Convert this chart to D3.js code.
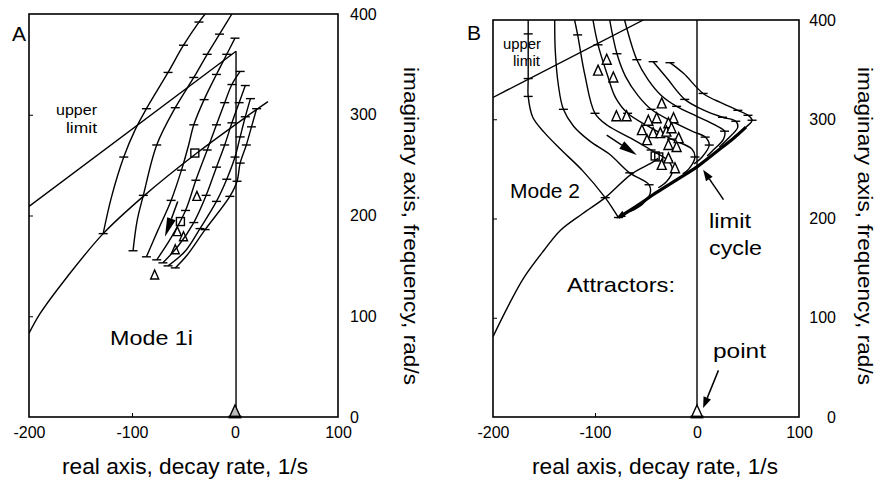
<!DOCTYPE html>
<html><head><meta charset="utf-8">
<script src="https://cdn.jsdelivr.net/npm/d3@7"></script>
<style>body{margin:0;background:#fff}text{font-family:"Liberation Sans",Arial,Helvetica,sans-serif;fill:#000}</style>
</head><body><svg id="c" width="877" height="480"></svg>
<script>
// ---------------- data ----------------
const xTicks = [-200, -100, 0, 100];
const yTicks = [0, 100, 200, 300, 400];
const xTitle = "real axis, decay rate, 1/s";
const yTitle = "imaginary axis, frequency, rad/s";

// Panel A  (x: decay rate 1/s, y: frequency rad/s, third value = crossbar tick)
const aUpperLimit = [[-200, 209], [1, 363]];
const aEnvelope = [[-200, 83], [-189, 103], [-163, 139], [-128, 182], [-89, 219], [-37, 262], [11, 298], [32, 313]];
const aAxisLine = [[1, 0], [1, 363]];
const aCurve1 = [[-128,182,1],[-120,218,0],[-108,258,1],[-97,285,0],[-86,306,1],[-65,342,1],[-50,369,1],[-35,392,1],[-29,400,0]];
const aCurve2 = [[-99,165,1],[-95,195,0],[-89,220,1],[-76,270,1],[-58,307,1],[-40,337,1],[-27,360,1],[-15,380,1],[-3,400,0]];
const aCurve3 = [[-86,159,1],[-75,185,0],[-62,215,1],[-52,245,1],[-45,270,0],[-40,290,1],[-30,315,1],[-18,340,1],[-8,360,1],[0,376,1]];
const aCurve4 = [[-76,156,1],[-62,178,0],[-48,205,1],[-38,235,1],[-27,265,1],[-18,290,1],[-10,312,1],[-3,330,1],[5,343,1]];
const aCurve5 = [[-70,153,1],[-55,170,0],[-40,193,1],[-28,220,1],[-18,248,1],[-10,270,1],[-3,292,1],[4,312,1],[10,329,1]];
const aCurve6 = [[-65,150,1],[-48,165,0],[-34,187,1],[-18,214,1],[-8,236,1],[0,258,1],[5,278,1],[10,298,1],[15,316,1]];
const aCurve7 = [[-58,148,1],[-47,160,0],[-29,186,1],[-5,219,1],[2,234,1],[5,252,1],[11,270,1],[16,288,1],[21,306,1]];
const aSquares = [[-39, 262], [-53, 194]];
const aTriangles = [[-37, 219], [-56, 184], [-50, 179], [-58, 166], [-78, 141]];
const aArrow = [[-55.6, 214], [-68, 179]];
const aOrigin = [0, 0];

// Panel B
const bUpperLimit = [[-200, 322], [-52.6, 400]];
const bEnvelope = [[-200,81],[-185,112],[-170,140],[-150,168],[-134,188],[-112,205],[-90,221],[-64,245],[-43,257],[-38,261]];
const bAxisLine = [[0, 0], [0, 400]];
const bCurve1 = [[-165.5,400,0],[-165.5,386,1],[-165.5,341,1],[-165.5,323,1],[-161,302,0],[-150,287,0],[-134,270,0],[-112,248,0],[-90,221,1],[-82,209,0],[-77,201,1]];
const bCurve2 = [[-139.5,400,0],[-139,370,0],[-136,335,0],[-131,310,1],[-121,293,0],[-105,278,0],[-86,265,0],[-66,246,1],[-47,234,1],[-46,225,0],[-54,214,0],[-66,207,0]];
const bCurve3 = [[-120,400,0],[-117,385,1],[-110,345,0],[-100,306,1],[-88,294,0],[-65,281,0],[-45,269,1],[-28,258,1],[-24,248,0],[-30,237,0],[-38,231,0]];
const bCurve4 = [[-102,400,0],[-97,375,1],[-88,345,0],[-80,322,0],[-68,306,1],[-48,293,0],[-25,280,1],[-5,270,0],[-2,262,1],[-8,250,0],[-14,245,0]];
const bCurve5 = [[-85.6,400,0],[-78.5,366,1],[-70,343,0],[-58,324,0],[-45,310,1],[-25,298,0],[-5,288,0],[8,282,1],[12,274,1],[5,262,0],[-3,255,0]];
const bCurve6 = [[-71,400,0],[-59,360,1],[-48,340,0],[-35,324,0],[-20,313,1],[0,303,0],[18,294,0],[27,288,1],[26,280,0],[15,268,0],[10,263,0]];
const bCurve7 = [[-43,358,1],[-30,342,0],[-12,320,1],[5,310,0],[25,302,1],[38,298,1],[40,292,0],[30,280,0],[22,272,0]];
const bCurve8 = [[-26.5,357,1],[-13,346,0],[6,326,1],[25,316,0],[40,309,1],[50,304,1],[54,299,1],[48,292,0],[36,282,0]];
const bLimitCycle = [[-77,201],[-60,212],[-40,226],[-20,239],[0,252],[20,268],[35,280],[48,292]];
const bTriangles = [[-88.5,360],[-97,349],[-82,342],[-79,303],[-69,303],[-34.6,316],[-47.7,298.5],[-39.5,301],[-23,301],[-28,296],[-54,289],[-43,286],[-36,286],[-30,287.5],[-25,291],[-18,281],[-49,279],[-28,274],[-20,272],[-28,260.6],[-34.6,254],[-21.6,250.6]];
const bSquares = [[-41, 263], [-37.5, 262]];
const bArrow = [[-88.5, 284], [-59, 264]];
const bLimitArrow = [[26, 219], [6, 249]];
const bPointArrow = [[21, 47], [6, 9]];
const bOrigin = [0, 0];

// ---------------- drawing ----------------
const svg = d3.select("#c");
svg.append("rect").attr("width", 877).attr("height", 480).attr("fill", "#fff");
const FONT = '"Liberation Sans",Arial,Helvetica,sans-serif';
const SW = 1.4;

function triPath(px, py, w, h, baseAt) {
  const top = baseAt ? py - h : py - h * 0.55;
  const bot = baseAt ? py : py + h * 0.45;
  return `M${px},${top}L${px + w / 2},${bot}L${px - w / 2},${bot}Z`;
}
function arrow(g, p1, p2, hl, hw, sw) {
  const dx = p2[0] - p1[0], dy = p2[1] - p1[1], L = Math.hypot(dx, dy);
  const ux = dx / L, uy = dy / L, nx = -uy, ny = ux;
  const bx = p2[0] - ux * hl, by = p2[1] - uy * hl;
  g.append("line").attr("x1", p1[0]).attr("y1", p1[1]).attr("x2", bx).attr("y2", by)
    .attr("stroke", "#000").attr("stroke-width", sw);
  g.append("path").attr("d", `M${p2[0]},${p2[1]}L${bx + nx * hw},${by + ny * hw}L${bx - nx * hw},${by - ny * hw}Z`)
    .attr("fill", "#000");
}

function panel(cfg) {
  const x = d3.scaleLinear().domain([-200, 100]).range([cfg.L, cfg.R]);
  const y = d3.scaleLinear().domain([0, 400]).range([cfg.B, cfg.T]);
  const g = svg.append("g");
  const clipId = "clip" + cfg.name;
  svg.append("clipPath").attr("id", clipId).append("rect")
    .attr("x", cfg.L).attr("y", cfg.T).attr("width", cfg.R - cfg.L).attr("height", cfg.B - cfg.T);
  const plot = g.append("g").attr("clip-path", `url(#${clipId})`);

  const straight = d3.line().x(d => x(d[0])).y(d => y(d[1]));
  const smooth = d3.line().x(d => x(d[0])).y(d => y(d[1])).curve(d3.curveCatmullRom.alpha(0.5));

  plot.append("path").attr("d", straight(cfg.axisLine)).attr("fill", "none").attr("stroke", "#000").attr("stroke-width", SW);
  plot.append("path").attr("d", straight(cfg.upper)).attr("fill", "none").attr("stroke", "#000").attr("stroke-width", SW);
  plot.append("path").attr("d", smooth(cfg.envelope)).attr("fill", "none").attr("stroke", "#000").attr("stroke-width", SW);

  cfg.curves.forEach(c => {
    plot.append("path").attr("d", smooth(c)).attr("fill", "none").attr("stroke", "#000").attr("stroke-width", SW);
    c.filter(p => p[2]).forEach(p => {
      plot.append("line").attr("x1", x(p[0]) - 4.5).attr("x2", x(p[0]) + 4.5)
        .attr("y1", y(p[1])).attr("y2", y(p[1])).attr("stroke", "#000").attr("stroke-width", SW);
    });
  });
  if (cfg.limit) {
    plot.append("path").attr("d", smooth(cfg.limit)).attr("fill", "none").attr("stroke", "#000").attr("stroke-width", 3.2);
    const a = cfg.limit[1], b = cfg.limit[0];
    arrow(plot, [x(a[0]), y(a[1])], [x(b[0]) - 2, y(b[1]) + 1], 9, 3.5, 1.5);
  }

  cfg.squares.forEach(p => {
    plot.append("rect").attr("x", x(p[0]) - 4).attr("y", y(p[1]) - 4).attr("width", 8).attr("height", 8)
      .attr("fill", "none").attr("stroke", "#000").attr("stroke-width", 1.4);
  });
  cfg.triangles.forEach(p => {
    plot.append("path").attr("d", triPath(x(p[0]), y(p[1]), cfg.triW, cfg.triH, false))
      .attr("fill", cfg.triFill).attr("stroke", "#000").attr("stroke-width", 1.4);
  });
  plot.append("path").attr("d", triPath(x(cfg.origin[0]), y(cfg.origin[1]), 11, 12, true))
    .attr("fill", cfg.originFill).attr("stroke", "#000").attr("stroke-width", 1.4);
  g.append("line").attr("x1", x(cfg.origin[0]) - 6.5).attr("x2", x(cfg.origin[0]) + 6.5)
    .attr("y1", y(0)).attr("y2", y(0)).attr("stroke", "#000").attr("stroke-width", 2.8);

  cfg.arrows.forEach(a => arrow(g, [x(a.p[0][0]), y(a.p[0][1])], [x(a.p[1][0]), y(a.p[1][1])], a.hl, a.hw, a.sw));

  g.append("rect").attr("x", cfg.L).attr("y", cfg.T).attr("width", cfg.R - cfg.L).attr("height", cfg.B - cfg.T)
    .attr("fill", "none").attr("stroke", "#000").attr("stroke-width", 1.6);

  g.append("g").attr("transform", `translate(${cfg.L},0)`)
    .call(d3.axisLeft(y).tickValues(yTicks.filter(v => v > 0 && v < 400)).tickSizeInner(-4).tickSizeOuter(0).tickFormat(""))
    .call(s => s.select(".domain").remove());
  g.append("g").attr("transform", `translate(0,${cfg.B})`)
    .call(d3.axisTop(x).tickValues([-100]).tickSizeInner(4).tickSizeOuter(0).tickFormat(""))
    .call(s => s.select(".domain").remove());

  const xa = g.append("g").attr("transform", `translate(0,${cfg.B})`)
    .call(d3.axisBottom(x).tickValues(xTicks).tickSize(0).tickPadding(10).tickFormat(d => String(d)));
  xa.select(".domain").remove();
  xa.selectAll("text").attr("font-size", 16).style("font-family", FONT);
  const ya = g.append("g").attr("transform", `translate(${cfg.R},0)`)
    .call(d3.axisRight(y).tickValues(yTicks).tickSize(0).tickPadding(cfg.yPad).tickFormat(d => String(d)));
  ya.select(".domain").remove();
  ya.selectAll("text").attr("font-size", 16).attr("text-anchor", cfg.yAnchor).style("font-family", FONT);

  g.append("text").attr("x", cfg.xTitleX).attr("y", 474).attr("text-anchor", "middle").attr("font-size", 22)
    .attr("textLength", 246).attr("lengthAdjust", "spacingAndGlyphs").text(xTitle);
  g.append("text").attr("transform", `translate(${cfg.yTitleX},226) rotate(90)`).attr("text-anchor", "middle")
    .attr("font-size", 21).attr("textLength", 318).attr("lengthAdjust", "spacingAndGlyphs").text(yTitle);

  cfg.labels.forEach(l => {
    const t = g.append("text").attr("x", l.x).attr("y", l.y).attr("font-size", l.fs)
      .attr("text-anchor", l.anchor || "start").text(l.t);
    if (l.w) t.attr("textLength", l.w).attr("lengthAdjust", "spacingAndGlyphs");
  });
  return {x, y};
}

panel({
  name: "A", L: 29, R: 338, T: 14, B: 417, yPad: 12, yAnchor: "start", xTitleX: 185, yTitleX: 404,
  axisLine: aAxisLine, upper: aUpperLimit, envelope: aEnvelope,
  curves: [aCurve1, aCurve2, aCurve3, aCurve4, aCurve5, aCurve6, aCurve7],
  squares: aSquares, triangles: aTriangles, triFill: "none", triW: 8, triH: 9, origin: aOrigin, originFill: "#bbb",
  arrows: [{p: aArrow, hl: 19, hw: 4.5, sw: 1.5}],
  labels: [
    {t: "A", x: 12, y: 41, fs: 21},
    {t: "upper", x: 97, y: 115, fs: 15, anchor: "end", w: 41},
    {t: "limit", x: 97, y: 133, fs: 15, anchor: "end", w: 31},
    {t: "Mode 1i", x: 110, y: 345, fs: 21, w: 83}
  ]
});

panel({
  name: "B", L: 493, R: 799, T: 20, B: 417, yPad: 37, yAnchor: "end", xTitleX: 655, yTitleX: 858,
  axisLine: bAxisLine, upper: bUpperLimit, envelope: bEnvelope,
  curves: [bCurve1, bCurve2, bCurve3, bCurve4, bCurve5, bCurve6, bCurve7, bCurve8],
  limit: bLimitCycle,
  squares: bSquares, triangles: bTriangles, triFill: "#fff", triW: 9, triH: 10, origin: bOrigin, originFill: "#fff",
  arrows: [{p: bArrow, hl: 18, hw: 4.5, sw: 1.5}, {p: bLimitArrow, hl: 11, hw: 4, sw: 1.5}, {p: bPointArrow, hl: 11, hw: 4, sw: 1.5}],
  labels: [
    {t: "B", x: 467, y: 40, fs: 21},
    {t: "upper", x: 541, y: 49, fs: 14, anchor: "end", w: 38},
    {t: "limit", x: 540, y: 66, fs: 14, anchor: "end", w: 27},
    {t: "Mode 2", x: 510, y: 198, fs: 21, w: 70},
    {t: "Attractors:", x: 567, y: 292, fs: 21, w: 108},
    {t: "limit", x: 709, y: 228, fs: 21, w: 42},
    {t: "cycle", x: 709, y: 255, fs: 21, w: 53},
    {t: "point", x: 713, y: 358, fs: 21, w: 53}
  ]
});
</script></body></html>
